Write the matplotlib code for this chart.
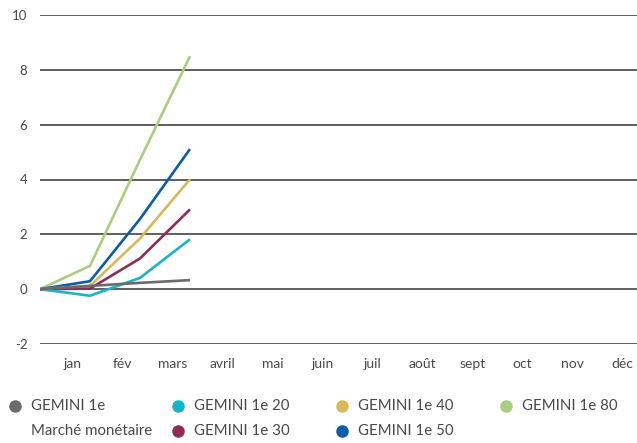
import matplotlib
matplotlib.use("Agg")
import matplotlib.pyplot as plt

# =========================
# DONNÉES
# =========================

mois = ["jan", "fév", "mars", "avril", "mai", "juin", "juil",
        "août", "sept", "oct", "nov", "déc"]

# points : départ (0), fin jan, fin fév, fin mars
points_x = [0, 1, 2, 3]

gemini_mm = [0, 0.12, 0.23, 0.33]
gemini_20 = [0, -0.24, 0.41, 1.82]
gemini_30 = [0, 0.02, 1.12, 2.91]
gemini_40 = [0, 0.12, 1.85, 4.01]
gemini_50 = [0, 0.29, 2.56, 5.11]
gemini_80 = [0, 0.85, 4.72, 8.5]

noms = ["GEMINI 1e", "GEMINI 1e 20", "GEMINI 1e 30",
        "GEMINI 1e 40", "GEMINI 1e 50", "GEMINI 1e 80"]
couleurs = ["#6b6b6e", "#17b5c8", "#8c2d57", "#dbb75a", "#0a5ea8", "#a8cf7e"]
series = [gemini_mm, gemini_20, gemini_30, gemini_40, gemini_50, gemini_80]

plt.rcParams["font.family"] = ["Lato", "DejaVu Sans"]
GRIS_TEXTE = "#4a4a4a"

# =========================
# GRAPHIQUE
# =========================

fig = plt.figure(figsize=(6.37, 4.43), dpi=100)
ax = fig.add_axes([40 / 637, 99 / 443, 597 / 637, 329 / 443])

for y in range(-2, 11, 2):
    ax.axhline(y, color="#333333", lw=1.1, zorder=1)

for idx in [5, 4, 3, 2, 1, 0]:
    ax.plot(points_x, series[idx], color=couleurs[idx], lw=1.9,
            solid_capstyle="butt", zorder=3)

ax.set_xlim(0, 11.94)
ax.set_ylim(-2, 10)
ax.set_yticks(range(-2, 11, 2))
ax.set_yticklabels([str(v) for v in range(-2, 11, 2)])
ax.set_xticks([i + 0.65 for i in range(12)])
ax.set_xticklabels(mois)
ax.tick_params(length=0, colors=GRIS_TEXTE)
ax.tick_params(axis="y", pad=9, labelsize=9.5)
ax.tick_params(axis="x", pad=10, labelsize=10)
for s in ax.spines.values():
    s.set_visible(False)

# =========================
# LÉGENDE (manuelle)
# =========================

leg = fig.add_axes([0, 0, 1, 1])
leg.set_xlim(0, 637)
leg.set_ylim(443, 0)
leg.axis("off")

positions = [(15, 406), (178, 406), (178, 431), (342, 406), (342, 431), (506, 406)]
for (px, py), nom, c in zip(positions, noms, couleurs):
    leg.plot(px, py, "o", ms=8, color=c, mec=c)
    leg.text(px + 16, py, nom, va="center", ha="left", fontsize=10.8, color=GRIS_TEXTE)
leg.text(31, 431, "Marché monétaire", va="center", ha="left", fontsize=10.8, color=GRIS_TEXTE)

fig.savefig("out.png", dpi=100)
